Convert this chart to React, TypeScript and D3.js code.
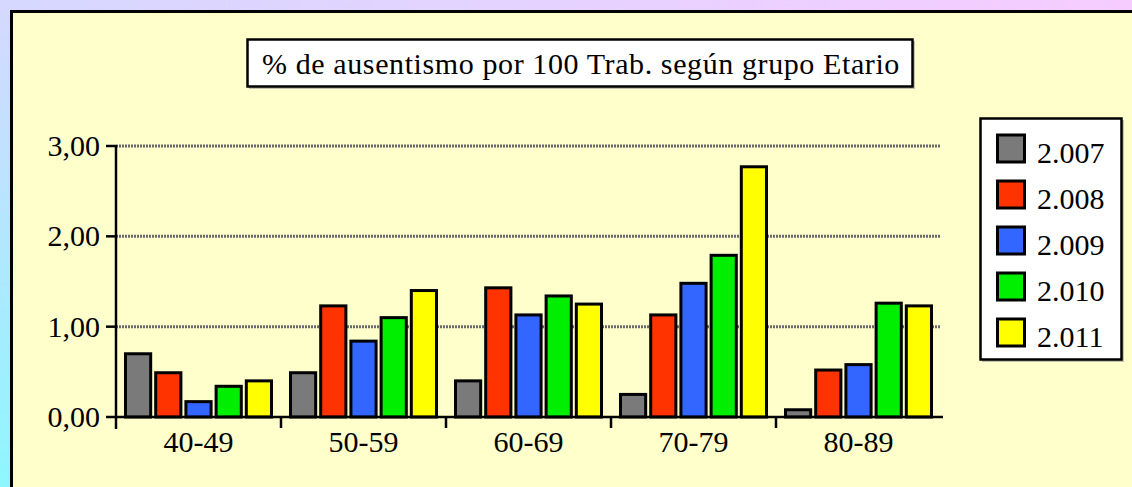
import React from "react";
import * as d3 from "d3";

const categories = ["40-49", "50-59", "60-69", "70-79", "80-89"];
const seriesNames = ["2.007", "2.008", "2.009", "2.010", "2.011"];
const seriesColors = ["#7a7a7a", "#ff3300", "#3366ff", "#00ee00", "#ffff00"];
const s2007 = [0.70, 0.49, 0.40, 0.25, 0.08];
const s2008 = [0.49, 1.23, 1.43, 1.13, 0.52];
const s2009 = [0.17, 0.84, 1.13, 1.48, 0.58];
const s2010 = [0.34, 1.10, 1.34, 1.79, 1.26];
const s2011 = [0.40, 1.40, 1.25, 2.77, 1.23];
const seriesValues = [s2007, s2008, s2009, s2010, s2011];
const yTicks = [0, 1, 2, 3];
const title = "% de ausentismo por 100 Trab. según grupo Etario";

const W = 1132;
const H = 487;
const FONT = "'Liberation Serif', 'Times New Roman', serif";

export default function App() {
  const x0 = 116, x1 = 941, yBase = 417, yTop = 146;
  const xScale = d3.scaleBand<string>().domain(categories).range([x0, x1]).padding(0);
  const inner = d3
    .scaleBand<string>()
    .domain(seriesNames)
    .range([9.5, xScale.bandwidth() - 9.5])
    .paddingInner(0.166)
    .paddingOuter(0);
  const y = d3.scaleLinear().domain([0, 3]).range([yBase, yTop]);
  const fmt = (v: number) => v.toFixed(2).replace(".", ",");

  return (
    <svg width={W} height={H} style={{ position: "absolute", left: 0, top: 0 }} xmlns="http://www.w3.org/2000/svg">
      <defs>
        <linearGradient id="topG" x1="0" y1="0" x2="1" y2="0">
          <stop offset="0" stopColor="#d6d8ff" />
          <stop offset="1" stopColor="#f6ccff" />
        </linearGradient>
        <linearGradient id="leftG" x1="0" y1="0" x2="0" y2="1">
          <stop offset="0" stopColor="#d6d8ff" />
          <stop offset="1" stopColor="#8ef6ff" />
        </linearGradient>
      </defs>
      <rect x={0} y={0} width={W} height={H} fill="url(#leftG)" />
      <rect x={0} y={0} width={W} height={12} fill="url(#topG)" />
      {/* chart area */}
      <rect x={13} y={13} width={W + 20} height={H + 20} fill="#999" opacity={0.5} />
      <rect x={11.5} y={11.5} width={W + 20} height={H + 20} fill="#ffffcc" stroke="#000" strokeWidth={3} />

      {/* title box */}
      <rect x={249} y={41} width={666} height={48} fill="#999" opacity={0.6} />
      <rect x={247.5} y={39.5} width={665} height={47} fill="#fff" stroke="#000" strokeWidth={2.5} />
      <text x={581} y={74} textAnchor="middle" fontFamily={FONT} fontSize={30} letterSpacing={0.6} fill="#000">
        {title}
      </text>

      {/* gridlines */}
      {yTicks.filter((t) => t > 0).map((t) => (
        <line key={t} x1={x0} x2={x1} y1={y(t)} y2={y(t)} stroke="#6a6a6a" strokeWidth={3} strokeDasharray="2 1" />
      ))}

      {/* bars */}
      {categories.map((c, ci) => (
        <g key={c} transform={`translate(${xScale(c)},0)`}>
          {seriesNames.map((s, si) => {
            const v = seriesValues[si][ci];
            return (
              <rect
                key={s}
                x={inner(s)}
                y={y(v)}
                width={inner.bandwidth()}
                height={yBase - y(v)}
                fill={seriesColors[si]}
                stroke="#000"
                strokeWidth={3}
              />
            );
          })}
        </g>
      ))}

      {/* y axis */}
      <line x1={x0} x2={x0} y1={yTop - 1} y2={yBase + 12} stroke="#000" strokeWidth={2.5} />
      {yTicks.map((t) => (
        <g key={t}>
          <line x1={x0 - 10} x2={x0} y1={y(t)} y2={y(t)} stroke="#000" strokeWidth={2.5} />
          <text x={100} y={y(t) + 10} textAnchor="end" fontFamily={FONT} fontSize={30} fill="#000">
            {fmt(t)}
          </text>
        </g>
      ))}

      {/* x axis */}
      <line x1={x0} x2={x1 + 2} y1={yBase} y2={yBase} stroke="#000" strokeWidth={2.5} />
      {categories.map((c, i) => (
        <g key={c}>
          {i > 0 && <line x1={xScale(c)} x2={xScale(c)} y1={yBase} y2={yBase + 11} stroke="#000" strokeWidth={2.5} />}
          <text
            x={(xScale(c) as number) + xScale.bandwidth() / 2}
            y={452}
            textAnchor="middle"
            fontFamily={FONT}
            fontSize={30}
            fill="#000"
          >
            {c}
          </text>
        </g>
      ))}

      {/* legend */}
      <rect x={982} y={120} width={142} height={242} fill="#999" opacity={0.6} />
      <rect x={980.5} y={118.5} width={141} height={241} fill="#fff" stroke="#000" strokeWidth={2.5} />
      {seriesNames.map((s, i) => {
        const cy = 148.5 + i * 46;
        return (
          <g key={s}>
            <rect x={997.5} y={cy - 13.5} width={27} height={27} fill={seriesColors[i]} stroke="#000" strokeWidth={3} />
            <text x={1037} y={cy + 14} fontFamily={FONT} fontSize={30} fill="#000">
              {s}
            </text>
          </g>
        );
      })}
    </svg>
  );
}
